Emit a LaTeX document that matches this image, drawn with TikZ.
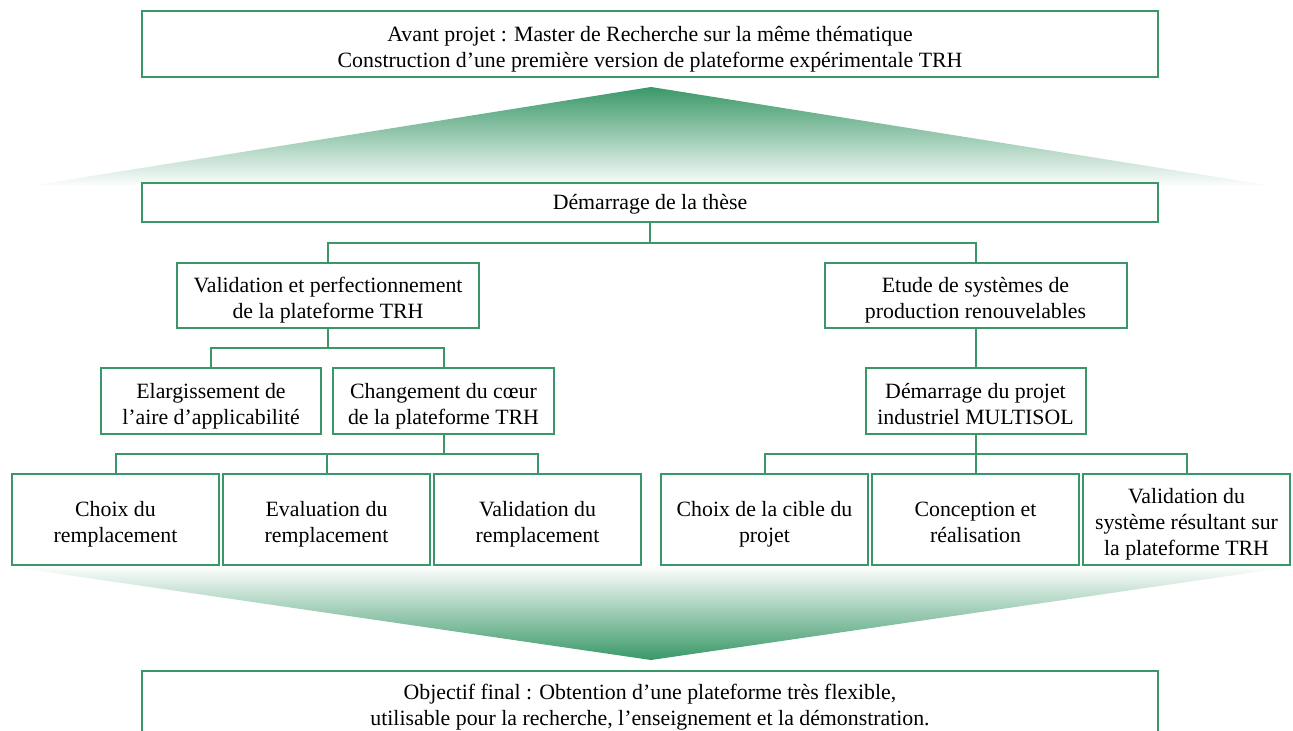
\documentclass[tikz,border=0pt]{standalone}
\usepackage{fontspec}
\setmainfont{Liberation Serif}
\usetikzlibrary{calc,positioning}
\definecolor{vert}{RGB}{58,152,104}
\newcommand{\haut}[1][14pt]{\rule{0pt}{#1}}
\newcommand{\bas}{\rule[-2.6pt]{0pt}{2.6pt}}
\tikzset{lien/.style={draw=vert, line width=1.1pt},
  boite/.style={draw=vert, line width=1.1pt, align=center, inner sep=2pt, font=\fontsize{12}{14.3}\selectfont}}

\begin{document}
\begin{tikzpicture}[x=0.55pt, y=-0.55pt]
  \useasboundingbox (0,0) rectangle (1293,731);
  % fleches en degrade
  \shade[top color=vert, bottom color=vert!2] (35,185) -- (651,87) -- (1267,185) -- cycle;
  \shade[top color=vert!2, bottom color=vert] (12,567) -- (1290,567) -- (651,660) -- cycle;
  % blocs
  \node[boite, minimum width=558.8pt, minimum height=36.3pt] (avant) at (650,44) {\haut Avant projet : Master de Recherche sur la même thématique\\Construction d’une première version de plateforme expérimentale TRH};
  \node[boite, minimum width=558.8pt, minimum height=21.45pt] (these) at (650,202.5) {\haut[10.5pt]Démarrage de la thèse};
  \node[boite, minimum width=166.1pt, minimum height=35.75pt] (vp) at (328,295.5) {\haut Validation et perfectionnement\\de la plateforme TRH};
  \node[boite, minimum width=166.1pt, minimum height=35.75pt] (etude) at (975.5,295.5) {\haut Etude de systèmes de\\production renouvelables};
  \node[boite, minimum width=121pt, minimum height=36.3pt] (elarg) at (211,401) {\haut Elargissement de\\l’aire d’applicabilité};
  \node[boite, minimum width=121.5pt, minimum height=36.3pt] (chg) at (443.5,401) {\haut Changement du cœur\\de la plateforme TRH};
  \node[boite, minimum width=121pt, minimum height=36.3pt] (mult) at (975.5,401) {\haut Démarrage du projet\\industriel MULTISOL\bas};
  \node[boite, minimum width=113.85pt, minimum height=50pt] (choix) at (115.5,519.5) {\haut Choix du\\remplacement};
  \node[boite, minimum width=113.85pt, minimum height=50pt] (eval) at (326.5,519.5) {\haut Evaluation du\\remplacement};
  \node[boite, minimum width=113.85pt, minimum height=50pt] (valid) at (537.5,519.5) {\haut Validation du\\remplacement};
  \node[boite, minimum width=113.85pt, minimum height=50pt] (cible) at (764.5,519.5) {\haut Choix de la cible du\\projet};
  \node[boite, minimum width=113.85pt, minimum height=50pt] (concep) at (975.5,519.5) {\haut Conception et\\réalisation\bas};
  \node[boite, minimum width=113.85pt, minimum height=50pt, inner ysep=1pt] (valsys) at (1186.5,519.5) {\haut Validation du\\système résultant sur\\la plateforme TRH};
  \node[boite, minimum width=558.8pt, minimum height=38.5pt] (final) at (650,706) {\haut[10pt]Objectif final : Obtention d’une plateforme très flexible,\\utilisable pour la recherche, l’enseignement et la démonstration.};
  % liaisons
  \foreach \a/\b in {these/vp, these/etude, vp/elarg, vp/chg, chg/choix, chg/eval, chg/valid,
    etude/mult, mult/cible, mult/concep, mult/valsys}{
    \draw[lien] (\a.south) |- ($(\a.south)!.5!(\b.north)$) -| (\b.north);}
\end{tikzpicture}
\end{document}
